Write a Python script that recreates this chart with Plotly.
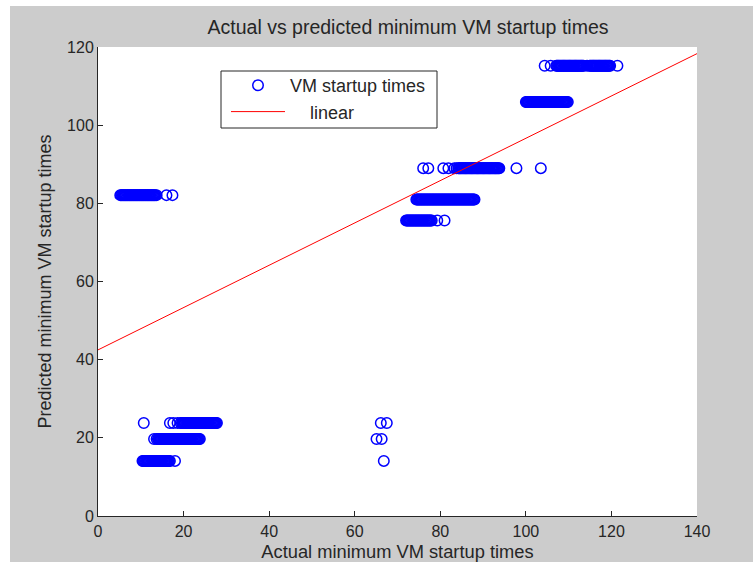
import plotly.graph_objects as go

# Predicted minimum startup time for each horizontal band of points,
# with the actual minimum startup times recorded in that band.
band_82_y = 82.1
band_82_x = [5.2, 5.4, 5.6, 5.8, 6.0, 6.2, 6.4, 6.6, 6.8, 7.0, 7.2, 7.4, 7.6,
             7.8, 8.0, 8.2, 8.4, 8.6, 8.8, 9.0, 9.2, 9.4, 9.6, 9.8, 10.0,
             10.2, 10.4, 10.6, 10.8, 11.0, 11.2, 11.4, 11.6, 11.8, 12.0, 12.2,
             12.4, 12.6, 12.8, 13.0, 13.2, 13.4, 13.7, 16.0, 17.4]

band_24_y = 23.8
band_24_x = [10.7, 16.8, 17.6, 18.6, 19.3, 19.6, 19.8, 20.0, 20.2, 20.4, 20.6,
             20.8, 21.0, 21.2, 21.4, 21.6, 21.8, 22.0, 22.2, 22.4, 22.6, 22.8,
             23.0, 23.2, 23.4, 23.6, 23.8, 24.0, 24.2, 24.4, 24.6, 24.8, 25.0,
             25.2, 25.4, 25.6, 25.8, 26.0, 26.2, 26.4, 26.6, 26.8, 27.0, 27.2,
             27.4, 27.6, 27.8, 66.1, 67.5]

band_20_y = 19.7
band_20_x = [13.1, 13.7, 14.0, 14.2, 14.4, 14.6, 14.8, 15.0, 15.2, 15.4, 15.6,
             15.8, 16.0, 16.2, 16.4, 16.6, 16.8, 17.0, 17.2, 17.4, 17.6, 17.8,
             18.0, 18.2, 18.4, 18.6, 18.8, 19.0, 19.2, 19.4, 19.6, 19.8, 20.0,
             20.2, 20.4, 20.6, 20.8, 21.0, 21.2, 21.4, 21.6, 21.8, 22.0, 22.2,
             22.4, 22.6, 22.8, 23.0, 23.2, 23.4, 23.6, 23.8, 65.1, 66.3]

band_14_y = 14.1
band_14_x = [10.4, 10.6, 10.8, 11.0, 11.2, 11.4, 11.6, 11.8, 12.0, 12.2, 12.4,
             12.6, 12.8, 13.0, 13.2, 13.4, 13.6, 13.8, 14.0, 14.2, 14.4, 14.6,
             14.8, 15.0, 15.2, 15.4, 15.6, 15.8, 16.0, 16.2, 16.4, 16.6, 16.8,
             18.0, 66.8]

band_89_y = 89.0
band_89_x = [76.0, 77.2, 80.7, 81.9, 83.3, 83.8, 84.2, 84.4, 84.6, 84.8, 85.0,
             85.2, 85.4, 85.6, 85.8, 86.0, 86.2, 86.4, 86.6, 86.8, 87.0, 87.2,
             87.4, 87.6, 87.8, 88.0, 88.2, 88.4, 88.6, 88.8, 89.0, 89.2, 89.4,
             89.6, 89.8, 90.0, 90.2, 90.4, 90.6, 90.8, 91.0, 91.2, 91.4, 91.6,
             91.8, 92.0, 92.2, 92.4, 92.6, 92.8, 93.0, 93.2, 93.4, 93.6, 93.8,
             97.8, 103.5]

band_81_y = 81.0
band_81_x = [74.4, 74.6, 74.8, 75.0, 75.2, 75.4, 75.6, 75.8, 76.0, 76.2, 76.4,
             76.6, 76.8, 77.0, 77.2, 77.4, 77.6, 77.8, 78.0, 78.2, 78.4, 78.6,
             78.8, 79.0, 79.2, 79.4, 79.6, 79.8, 80.0, 80.2, 80.4, 80.6, 80.8,
             81.0, 81.2, 81.4, 81.6, 81.8, 82.0, 82.2, 82.4, 82.6, 82.8, 83.0,
             83.2, 83.4, 83.6, 83.8, 84.0, 84.2, 84.4, 84.6, 84.8, 85.0, 85.2,
             85.4, 85.6, 85.8, 86.0, 86.2, 86.4, 86.6, 86.8, 87.0, 87.2, 87.4,
             87.6, 87.8, 88.0]

band_75_y = 75.6
band_75_x = [72.0, 72.2, 72.4, 72.6, 72.8, 73.0, 73.2, 73.4, 73.6, 73.8, 74.0,
             74.2, 74.4, 74.6, 74.8, 75.0, 75.2, 75.4, 75.6, 75.8, 76.0, 76.2,
             76.4, 76.6, 76.8, 77.0, 77.2, 77.4, 77.6, 77.8, 78.0, 79.3, 81.0]

band_106_y = 105.9
band_106_x = [100.0, 100.2, 100.4, 100.6, 100.8, 101.0, 101.2, 101.4, 101.6,
              101.8, 102.0, 102.2, 102.4, 102.6, 102.8, 103.0, 103.2, 103.4,
              103.6, 103.8, 104.0, 104.2, 104.4, 104.6, 104.8, 105.0, 105.2,
              105.4, 105.6, 105.8, 106.0, 106.2, 106.4, 106.6, 106.8, 107.0,
              107.2, 107.4, 107.6, 107.8, 108.0, 108.2, 108.4, 108.6, 108.8,
              109.0, 109.2, 109.4, 109.6, 109.8]

band_115_y = 115.2
band_115_x = [104.4, 105.8, 107.1, 107.3, 107.5, 107.7, 107.9, 108.1, 108.3,
              108.5, 108.7, 108.9, 109.1, 109.3, 109.5, 109.7, 109.9, 110.1,
              110.3, 110.5, 110.7, 110.9, 111.1, 111.3, 111.5, 111.7, 111.9,
              112.1, 112.3, 112.5, 112.7, 112.9, 113.1, 113.3, 113.5, 114.3,
              114.9, 115.1, 115.3, 115.5, 115.7, 115.9, 116.1, 116.3, 116.5,
              116.7, 116.9, 117.1, 117.3, 117.5, 117.7, 117.9, 118.1, 118.3,
              118.5, 118.7, 118.9, 119.1, 119.3, 119.5, 119.7, 121.4]

# Linear fit drawn across the full x range
linear_x = [0, 140]
linear_y = [42.5, 118.3]

x_ticks = [0, 20, 40, 60, 80, 100, 120, 140]
y_ticks = [0, 20, 40, 60, 80, 100, 120]

bands = [
    (band_82_y, band_82_x), (band_24_y, band_24_x), (band_20_y, band_20_x),
    (band_14_y, band_14_x), (band_89_y, band_89_x), (band_81_y, band_81_x),
    (band_75_y, band_75_x), (band_106_y, band_106_x), (band_115_y, band_115_x),
]
actual = []
predicted = []
for yv, xs in bands:
    actual.extend(xs)
    predicted.extend([yv] * len(xs))

FONT = "Liberation Sans, Arial, sans-serif"
INK = "#262626"
W, H = 753, 562
L, R, T, B = 98, 56, 47, 46
PW, PH = W - L - R, H - T - B


def px_to_paper_x(px):
    return (px - L) / PW


def px_to_paper_y(py):
    return (H - B - py) / PH


fig = go.Figure()
fig.add_trace(go.Scatter(
    x=actual, y=predicted, mode="markers", name="VM startup times",
    marker=dict(symbol="circle-open", size=10.5, color="#0000ff",
                line=dict(width=1.5, color="#0000ff")),
    cliponaxis=False,
))
fig.add_trace(go.Scatter(
    x=linear_x, y=linear_y, mode="lines", name="\u00a0\u00a0\u00a0\u00a0linear",
    line=dict(color="#ff0000", width=1),
))

axis_common = dict(
    showgrid=False, zeroline=False, showline=True, linecolor=INK, linewidth=1,
    ticks="inside", ticklen=5, tickcolor=INK, mirror=False, automargin=False,
    tickfont=dict(family=FONT, size=16, color=INK),
)

fig.update_layout(
    width=W, height=H,
    margin=dict(l=L, r=R, t=T, b=B, pad=0, autoexpand=False),
    paper_bgcolor="#cccccc", plot_bgcolor="#ffffff",
    font=dict(family=FONT, color=INK),
    title=dict(text="Actual vs predicted minimum VM startup times",
               x=408 / W, xref="container", xanchor="center",
               y=1 - 27 / H, yref="container", yanchor="middle",
               font=dict(family=FONT, size=19.5, color=INK)),
    xaxis=dict(range=[0, 140], tickvals=x_ticks, ticklabelstandoff=1,
               title=dict(text="Actual minimum VM startup times",
                          font=dict(family=FONT, size=18.3, color=INK),
                          standoff=9),
               **axis_common),
    yaxis=dict(range=[0, 120], tickvals=y_ticks,
               title=dict(text="Predicted minimum VM startup times",
                          font=dict(family=FONT, size=18, color=INK),
                          standoff=10),
               **axis_common),
    showlegend=True,
    legend=dict(x=px_to_paper_x(226), y=px_to_paper_y(67),
                xanchor="left", yanchor="top",
                bgcolor="rgba(0,0,0,0)", borderwidth=0,
                itemwidth=54,
                font=dict(family=FONT, size=18, color=INK)),
    shapes=[
        # legend frame
        dict(type="rect", xref="paper", yref="paper",
             x0=px_to_paper_x(221), x1=px_to_paper_x(437),
             y0=px_to_paper_y(128), y1=px_to_paper_y(71),
             line=dict(color=INK, width=1), fillcolor="#ffffff",
             layer="above"),
        # white margin strips along the left and top edges
        dict(type="rect", xref="paper", yref="paper",
             x0=px_to_paper_x(0), x1=px_to_paper_x(10),
             y0=px_to_paper_y(H), y1=px_to_paper_y(0),
             line=dict(width=0), fillcolor="#ffffff", layer="above"),
        dict(type="rect", xref="paper", yref="paper",
             x0=px_to_paper_x(0), x1=px_to_paper_x(W),
             y0=px_to_paper_y(6), y1=px_to_paper_y(0),
             line=dict(width=0), fillcolor="#ffffff", layer="above"),
    ],
)

fig.write_html("out.html")
